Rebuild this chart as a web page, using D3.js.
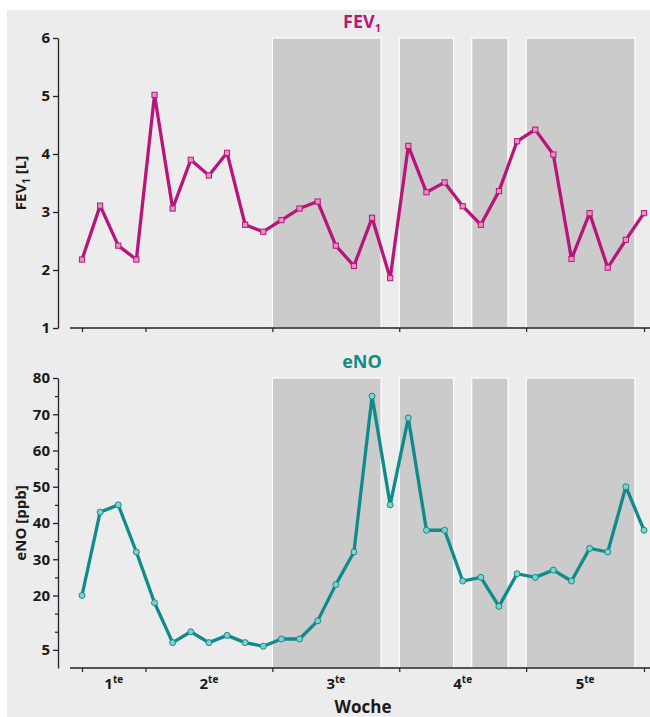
<!DOCTYPE html>
<html>
<head>
<meta charset="utf-8">
<script src="https://cdn.jsdelivr.net/npm/d3@7"></script>
<style>
  body { margin: 0; background: #fff; }
  text { font-family: "Open Sans", "Noto Sans", sans-serif; font-weight: 700; }
</style>
</head>
<body>
<div id="mainDiv"></div>
<script>
// measurements, one every half day
var fevValues = [2.18, 3.11, 2.42, 2.18, 5.02, 3.06, 3.90, 3.63, 4.02, 2.78, 2.66, 2.86, 3.06, 3.18, 2.42, 2.07,
    2.90, 1.86, 4.14, 3.34, 3.51, 3.10, 2.78, 3.36, 4.22, 4.42, 3.99, 2.19, 2.98, 2.04, 2.52, 2.98];
var enoValues = [20, 43, 45, 32, 18, 7, 10, 7, 9, 7, 6, 8, 8, 13, 23, 32,
    75, 45, 69, 38, 38, 24, 25, 17, 26, 25, 27, 24, 33, 32, 50, 38];
var weekTicks = [0, 3.5, 10.5, 17.5, 24.5, 31];
var weekLabels = ['1', '2', '3', '4', '5'];
var weekCentres = [1.75, 7, 14, 21, 27.75];
var shadedSpans = [[10.5, 16.5], [17.5, 20.5], [21.5, 23.5], [24.5, 30.5]];
var fevTicks = [1, 2, 3, 4, 5, 6];
var enoTickLabels = [5, 20, 30, 40, 50, 60, 70, 80];
var enoMinorTicks = [10, 15, 25, 35, 45, 55, 65, 75];

var _width = 650, _height = 717,
    _magenta = '#b8157b', _magentaFill = '#e690c3',
    _teal = '#0f8c89', _tealFill = '#86d0cc';

var svg = d3.select('#mainDiv').append('svg')
    .attr('width', _width)
    .attr('height', _height);

svg.append('rect')
    .attr('x', 7).attr('y', 10)
    .attr('width', _width - 7).attr('height', _height - 10)
    .attr('fill', '#ebeceb');

var x = d3.scaleLinear().domain([0, 31]).range([82, 644]);

var drawPanel = function (opt) {
    var g = svg.append('g');
    var y = opt.y;
    var top = y.range()[1], bottom = y.range()[0];

    // shaded periods
    g.selectAll('rect.span')
        .data(shadedSpans)
        .enter().append('rect')
        .attr('class', 'span')
        .attr('x', function (d) { return x(d[0]); })
        .attr('y', top)
        .attr('width', function (d) { return x(d[1]) - x(d[0]); })
        .attr('height', bottom - top)
        .attr('fill', '#cbcbcb')
        .attr('stroke', '#ffffff')
        .attr('stroke-width', 1.2);

    // y axis
    var yAxis = g.append('g')
        .attr('transform', 'translate(58,0)')
        .call(d3.axisLeft(y).tickValues(opt.ticks).tickFormat(d3.format('d'))
            .tickSize(5).tickSizeOuter(0).tickPadding(3));
    yAxis.select('.domain').attr('stroke', '#222').attr('stroke-width', 1.3);
    yAxis.selectAll('.tick line').attr('stroke', '#222').attr('stroke-width', 1.3);
    yAxis.selectAll('.tick text')
        .attr('font-size', 15)
        .attr('fill', '#1a1a1a')
        .style('font-family', '"Open Sans", sans-serif')
        .style('font-weight', 700);

    if (opt.minor) {
        g.append('g')
            .attr('transform', 'translate(58,0)')
            .call(d3.axisLeft(y).tickValues(opt.minor).tickSize(3).tickFormat(''))
            .call(function (s) { s.select('.domain').remove(); })
            .selectAll('.tick line').attr('stroke', '#222').attr('stroke-width', 1.2);
    }

    // x axis
    g.append('line')
        .attr('x1', 70).attr('x2', 650)
        .attr('y1', bottom).attr('y2', bottom)
        .attr('stroke', '#222').attr('stroke-width', 1.3);
    g.append('g')
        .attr('transform', 'translate(0,' + bottom + ')')
        .call(d3.axisBottom(x).tickValues(weekTicks).tickSize(4).tickFormat(''))
        .call(function (s) { s.select('.domain').remove(); })
        .selectAll('.tick line').attr('stroke', '#222').attr('stroke-width', 1.2);

    // axis title
    var yTitle = g.append('text')
        .attr('transform', 'translate(26,' + ((top + bottom) / 2) + ') rotate(-90)')
        .attr('text-anchor', 'middle')
        .attr('font-size', 15)
        .attr('fill', '#1a1a1a');
    opt.yTitle(yTitle);

    // panel title
    var title = g.append('text')
        .attr('x', 362)
        .attr('y', top - 10)
        .attr('text-anchor', 'middle')
        .attr('font-size', 18)
        .attr('fill', opt.color);
    opt.title(title);

    // line + markers
    var line = d3.line()
        .x(function (d, i) { return x(i); })
        .y(function (d) { return y(d); });
    g.append('path')
        .datum(opt.values)
        .attr('d', line)
        .attr('fill', 'none')
        .attr('stroke', opt.color)
        .attr('stroke-width', 3.3)
        .attr('stroke-linejoin', 'round');

    opt.markers(g.selectAll('.mark').data(opt.values).enter(), y);
    return g;
};

// FEV1 panel
drawPanel({
    y: d3.scaleLinear().domain([1, 6]).range([328, 38]),
    ticks: fevTicks,
    values: fevValues,
    color: _magenta,
    yTitle: function (t) {
        t.append('tspan').text('FEV');
        t.append('tspan').attr('font-size', 10).attr('dy', 4).text('1');
        t.append('tspan').attr('dy', -4).text(' [L]');
    },
    title: function (t) {
        t.append('tspan').text('FEV');
        t.append('tspan').attr('font-size', 11).attr('dy', 4).text('1');
    },
    markers: function (sel, y) {
        sel.append('rect')
            .attr('class', 'mark')
            .attr('x', function (d, i) { return x(i) - 2.6; })
            .attr('y', function (d) { return y(d) - 2.6; })
            .attr('width', 5.2).attr('height', 5.2)
            .attr('fill', _magentaFill)
            .attr('stroke', _magenta)
            .attr('stroke-width', 1);
    }
});

// eNO panel
drawPanel({
    y: d3.scaleLinear().domain([0, 80]).range([668, 378]),
    ticks: enoTickLabels,
    minor: enoMinorTicks,
    values: enoValues,
    color: _teal,
    yTitle: function (t) { t.text('eNO [ppb]'); },
    title: function (t) { t.text('eNO'); },
    markers: function (sel, y) {
        sel.append('circle')
            .attr('class', 'mark')
            .attr('cx', function (d, i) { return x(i); })
            .attr('cy', function (d) { return y(d); })
            .attr('r', 3)
            .attr('fill', _tealFill)
            .attr('stroke', _teal)
            .attr('stroke-width', 1);
    }
});

// week labels
var wk = svg.append('g').selectAll('text')
    .data(weekLabels)
    .enter().append('text')
    .attr('x', function (d, i) { return x(weekCentres[i]); })
    .attr('y', 689)
    .attr('text-anchor', 'middle')
    .attr('font-size', 15)
    .attr('fill', '#1a1a1a');
wk.append('tspan').text(function (d) { return d; });
wk.append('tspan').attr('font-size', 10).attr('dy', -6).text('te');

svg.append('text')
    .attr('x', 363)
    .attr('y', 713)
    .attr('text-anchor', 'middle')
    .attr('font-size', 17)
    .attr('fill', '#1a1a1a')
    .text('Woche');
</script>
</body>
</html>
